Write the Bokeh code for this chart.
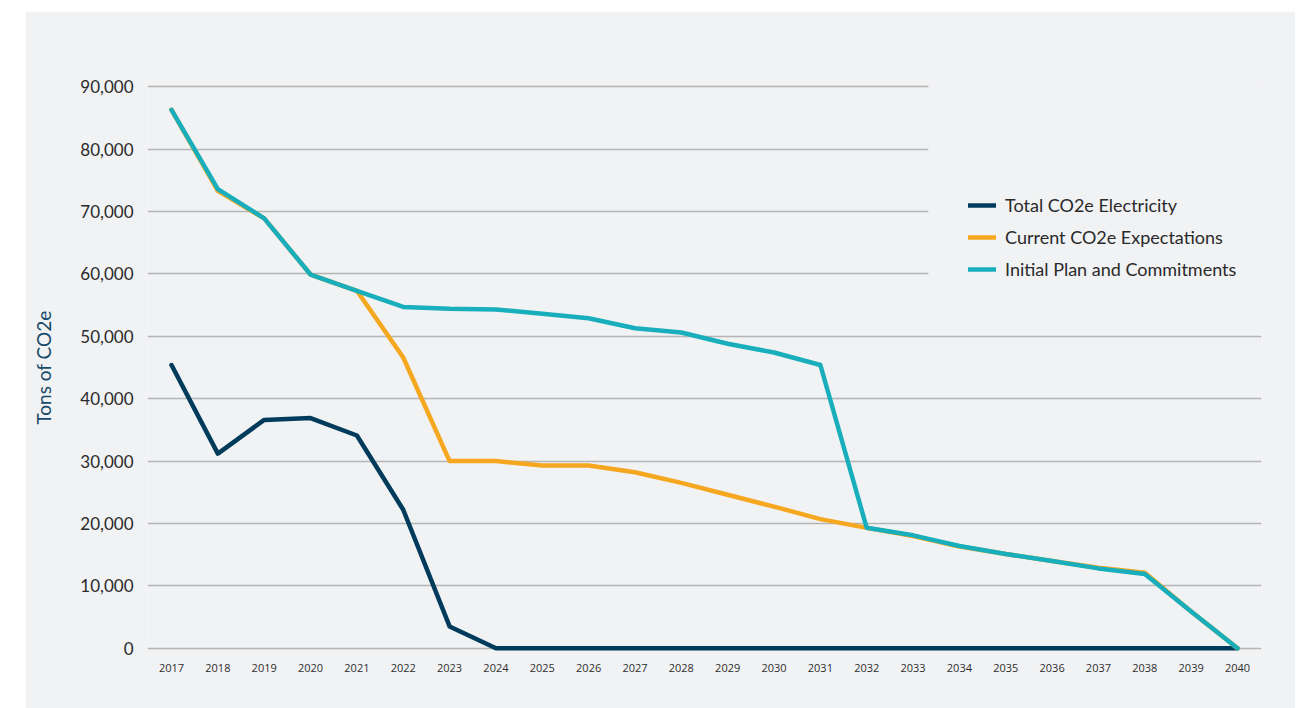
from bokeh.plotting import figure
from bokeh.models import (FixedTicker, NumeralTickFormatter, Legend, LegendItem,
                          BoxAnnotation, Range1d, Spacer)
from bokeh.layouts import column, row
from bokeh.embed import file_html
from bokeh.resources import INLINE

# --- data -------------------------------------------------------------
years = list(range(2017, 2041))
electricity = [45400, 31200, 36600, 36900, 34100, 22200, 3500,
               0, 0, 0, 0, 0, 0, 0, 0, 0, 0, 0, 0, 0, 0, 0, 0, 0]
expectations = [86300, 73300, 68900, 59900, 57300, 46600, 30000, 30000,
                29300, 29300, 28200, 26500, 24600, 22700, 20700, 19300,
                18000, 16300, 15100, 14000, 12900, 12100, 5900, 0]
initial_plan = [86300, 73600, 68900, 59900, 57300, 54700, 54400, 54300,
                53600, 52900, 51300, 50600, 48800, 47400, 45400, 19300,
                18100, 16400, 15100, 14000, 12800, 11900, 5900, 0]
y_ticks = list(range(0, 90001, 10000))
series_names = ["Total CO2e Electricity", "Current CO2e Expectations",
                "Initial Plan and Commitments"]

# --- style ------------------------------------------------------------
PANEL = "#f1f2f4"
GRID = "#b5b5b5"
COLORS = ["#003b5c", "#f5a81f", "#19aebb"]
LEGEND_PANEL_LEFT = 2033.33   # where the legend's backing panel starts
LEGEND_PANEL_BOTTOM = 55000

p = figure(width=1270, height=697, output_backend="svg", toolbar_location=None,
           x_range=Range1d(2016.482, 2040.518), y_range=Range1d(-1000, 91000),
           min_border_left=122, min_border_right=34,
           min_border_top=69, min_border_bottom=54)
p.background_fill_color = PANEL
p.border_fill_color = PANEL
p.outline_line_color = None

# axes
p.xaxis.ticker = FixedTicker(ticks=years)
p.yaxis.ticker = FixedTicker(ticks=y_ticks)
p.yaxis.formatter = NumeralTickFormatter(format="0,0")
for ax in (p.xaxis[0], p.yaxis[0]):
    ax.axis_line_color = None
    ax.major_tick_line_color = None
    ax.minor_tick_line_color = None
    ax.major_tick_out = 0
    ax.major_tick_in = 0

p.xaxis.major_label_text_font = "Open Sans"
p.xaxis.major_label_text_font_size = "11px"
p.xaxis.major_label_text_color = "#2e2e2e"
p.xaxis.major_label_standoff = 9

p.yaxis.major_label_text_font = "Lato"
p.yaxis.major_label_text_font_size = "17px"
p.yaxis.major_label_text_color = "#2a2a2a"
p.yaxis.major_label_standoff = 14
p.yaxis.axis_label = "Tons of CO2e"
p.yaxis.axis_label_text_font = "Lato"
p.yaxis.axis_label_text_font_style = "normal"
p.yaxis.axis_label_text_font_size = "19px"
p.yaxis.axis_label_text_color = "#164a68"
p.yaxis.axis_label_standoff = 22

p.xgrid.grid_line_color = None
p.ygrid.grid_line_color = GRID
p.ygrid.grid_line_width = 1.6

# lines
renderers = []
for vals, color in zip([electricity, expectations, initial_plan], COLORS):
    r = p.line(years, vals, line_color=color, line_width=4.5,
               line_join="round", line_cap="round")
    renderers.append(r)

# backing panel behind the legend (hides the upper grid lines there)
p.add_layout(BoxAnnotation(left=LEGEND_PANEL_LEFT, bottom=LEGEND_PANEL_BOTTOM,
                           fill_color=PANEL, fill_alpha=1.0,
                           line_alpha=0))

legend = Legend(items=[LegendItem(label=n, renderers=[r])
                       for n, r in zip(series_names, renderers)],
                location=(811, 364), margin=0, padding=10, spacing=10,
                glyph_width=28, glyph_height=20, label_height=20,
                label_standoff=9, label_text_font="Lato",
                label_text_font_size="18px", label_text_color="#2a2a2a",
                border_line_alpha=0, background_fill_alpha=0)
p.add_layout(legend, "center")

layout = column(Spacer(height=11), row(Spacer(width=25), p))
open("out.html", "w").write(file_html(layout, INLINE))
